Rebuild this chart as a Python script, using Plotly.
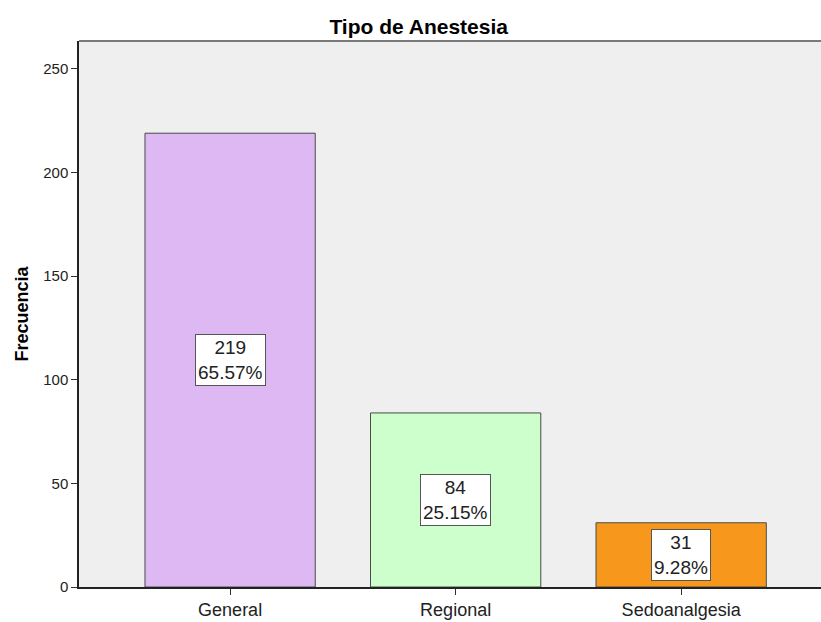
import plotly.graph_objects as go

categories = ["General", "Regional", "Sedoanalgesia"]
counts = [219, 84, 31]
percents = ["65.57%", "25.15%", "9.28%"]
colors = ["#DDB8F2", "#CCFFCC", "#F7981D"]
y_ticks = [0, 50, 100, 150, 200, 250]

FONT = "Liberation Sans, Arial, sans-serif"

fig = go.Figure()
fig.add_trace(go.Bar(
    x=categories, y=counts,
    marker=dict(color=colors, line=dict(color="#4a4a4a", width=1)),
    width=0.755,
    hoverinfo="skip",
))

for c, v, p in zip(categories, counts, percents):
    fig.add_annotation(
        x=c, y=v / 2, text=f"{v}<br>{p}", showarrow=False,
        font=dict(family=FONT, size=19, color="#222"),
        bgcolor="white", bordercolor="#555", borderwidth=1, borderpad=2,
        align="center",
    )

fig.add_shape(type="line", xref="paper", yref="paper", x0=0, x1=1, y0=1, y1=1,
              line=dict(color="#7a7a7a", width=2))

fig.update_layout(
    width=821, height=622,
    margin=dict(l=79, r=0, t=41, b=35),
    paper_bgcolor="white", plot_bgcolor="#EFEFEF",
    showlegend=False,
    bargap=0.245,
    title=dict(text="<b>Tipo de Anestesia</b>", x=0.51, xanchor="center",
               y=1 - 27 / 622, yanchor="middle",
               font=dict(family=FONT, size=21, color="black")),
    xaxis=dict(range=[-0.67, 2.62], showline=True, linecolor="#222", linewidth=1.5,
               ticks="outside", ticklen=6, tickcolor="#333", showgrid=False,
               tickfont=dict(family=FONT, size=18, color="#222")),
    yaxis=dict(range=[0, 263.5], tickvals=y_ticks, showline=True, linecolor="#222",
               linewidth=1.5, ticks="outside", ticklen=6, tickcolor="#333",
               showgrid=False, zeroline=False,
               tickfont=dict(family=FONT, size=15, color="#222"),
               title=dict(text="<b>Frecuencia</b>", standoff=10,
                          font=dict(family=FONT, size=18, color="black"))),
)

fig.write_html("out.html")
